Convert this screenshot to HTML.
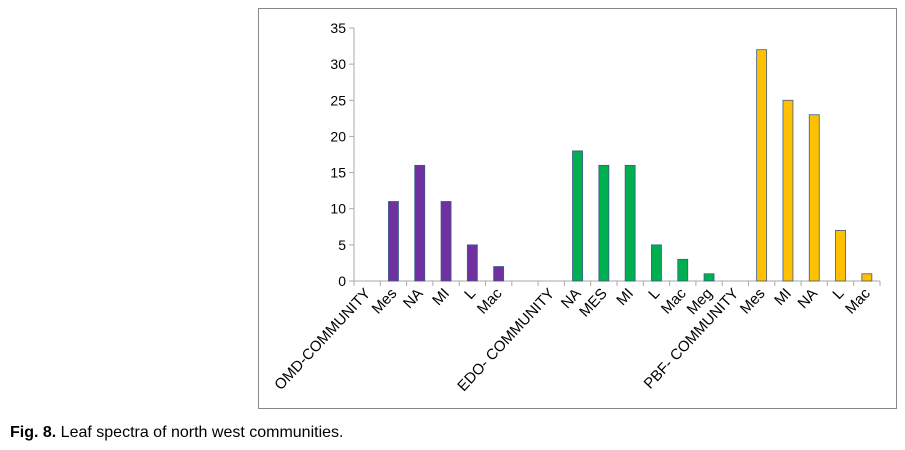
<!DOCTYPE html>
<html><head><meta charset="utf-8"><style>
body{margin:0;background:#fff;width:905px;height:450px;overflow:hidden;font-family:"Liberation Sans",sans-serif}
svg{position:absolute;left:0;top:0}
</style></head><body>
<svg id="chart" width="905" height="450">
<rect x="258.5" y="8.5" width="638" height="400" fill="#fff" stroke="#888"/>
<g id="plot"></g>
<text x="10" y="437" font-size="16" fill="#000"><tspan font-weight="bold">Fig. 8.</tspan> Leaf spectra of north west communities.</text>
</svg>
<script>
const categories=["OMD-COMMUNITY","Mes","NA","MI","L","Mac","","EDO- COMMUNITY","NA","MES","MI","L","Mac","Meg","PBF- COMMUNITY","Mes","MI","NA","L","Mac"];
const values=[0,11,16,11,5,2,0,0,18,16,16,5,3,1,0,32,25,23,7,1];
const groups=[0,0,0,0,0,0,0,1,1,1,1,1,1,1,2,2,2,2,2,2];
const groupColors=["#7030A0","#00B050","#FFC000"];
const yTicks=[0,5,10,15,20,25,30,35];
const ns="http://www.w3.org/2000/svg";
const g=document.getElementById('plot');
const x0=354,x1=880,y0=281,yTop=28,yMax=35;
const step=(x1-x0)/categories.length;
const ys=v=>y0-(v/yMax)*(y0-yTop);
const xc=i=>x0+step*(i+0.5);
function mk(t,a){const e=document.createElementNS(ns,t);for(const k in a)e.setAttribute(k,a[k]);g.appendChild(e);return e;}
let e=mk('line',{x1:x0,y1:yTop,x2:x0,y2:y0,stroke:'#aaa'});


e=mk('line',{x1:x0,y1:y0,x2:x1,y2:y0,stroke:'#aaa'});


yTicks.forEach(t=>{
  const y=ys(t);
  let l=mk('line',{x1:x0-5,y1:y,x2:x0,y2:y,stroke:'#aaa'});
  
  
  let tx=mk('text',{x:x0-8,y:y+5,'text-anchor':'end','font-size':'14',fill:'#000'});
  tx.textContent=t;
  
  
});
for(let i=0;i<=categories.length;i++){
  const x=x0+step*i;
  let l=mk('line',{x1:x,y1:y0,x2:x,y2:y0+5,stroke:'#aaa'});
  
  
}
categories.forEach((c,i)=>{
  const v=values[i];
  if(v>0){
    const y=ys(v);
    let r=mk('rect',{x:xc(i)-5,y:y,width:10,height:y0-y,fill:groupColors[groups[i]],stroke:'#3a5a8a','stroke-width':0.8});
    
    
  }
  if(c){
    const x=xc(i)+4,y=y0+13;
    let t=mk('text',{x:x,y:y,'text-anchor':'end','font-size':'15',fill:'#000',transform:`rotate(-47 ${x} ${y})`});
    t.textContent=c;
    
    
  }
});
</script>
</body></html>
